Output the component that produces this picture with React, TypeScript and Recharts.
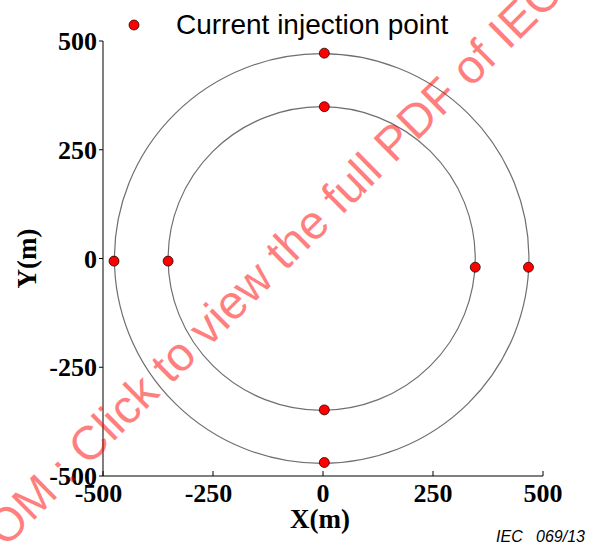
import React from 'react';
import { ScatterChart, Scatter, XAxis, YAxis, ReferenceArea, Legend } from 'recharts';

// axis setup (metres)
const axisDomain = [-500, 500];
const axisTicks = [-500, -250, 0, 250, 500];

// injection points
const pointX = [3, 3, 3, 3, -475, -352, 346, 467];
const pointY = [472, 349, -348, -469, -6, -6, -20, -20];

// the two rings (centre + radii)
const ringCenter = [-3, 0];
const ringRadii = [349, 471];

const seriesName = 'Current injection point';
const xTitle = 'X(m)';
const yTitle = 'Y(m)';
const figureTag = 'IEC   069/13';
const watermarkHead = 'IECNORM.COM :';
const watermarkTail = 'Click to view the full PDF of IEC';

const points = pointX.map((x, i) => ({ x, y: pointY[i] }));

const serif = '"Liberation Serif", "Times New Roman", serif';
const sans = '"Liberation Sans", Arial, sans-serif';

const tickFont = { fill: '#000', fontSize: 26, fontWeight: 700, fontFamily: serif };

const XTick = (props: any) => {
  const { x, y, payload } = props;
  const neg = payload.value < 0;
  return (
    <g>
      <line x1={x} y1={y} x2={x} y2={y - 5} stroke="#000" strokeWidth={1} />
      <text x={x} y={y + 26} dx={neg ? -4.5 : 0} textAnchor="middle" {...tickFont}>
        {payload.value}
      </text>
    </g>
  );
};

const RingShape = (props: any) => {
  const { x, y, width, height } = props;
  return (
    <ellipse
      cx={x + width / 2}
      cy={y + height / 2}
      rx={Math.abs(width) / 2}
      ry={Math.abs(height) / 2}
      fill="none"
      stroke="#6f6f6f"
      strokeWidth={1.2}
    />
  );
};

const PointShape = (props: any) => (
  <circle cx={props.cx} cy={props.cy} r={5} fill="#ff0000" stroke="#000" strokeWidth={0.7} />
);

const LegendContent = () => (
  <div
    style={{
      display: 'flex',
      alignItems: 'center',
      fontFamily: sans,
      fontSize: 28,
      color: '#000',
      whiteSpace: 'nowrap',
    }}
  >
    <svg width={12} height={12}>
      <circle cx={6} cy={6} r={5} fill="#ff0000" stroke="#000" strokeWidth={0.7} />
    </svg>
    <span style={{ marginLeft: 36 }}>{seriesName}</span>
  </div>
);

const YTitle = (props: any) => {
  const { viewBox } = props;
  const cx = viewBox.x - 16;
  const cy = viewBox.y + viewBox.height / 2;
  return (
    <text
      transform={`translate(${cx}, ${cy}) rotate(-90)`}
      textAnchor="middle"
      dominantBaseline="central"
      fill="#000"
      fontSize={27}
      fontWeight={700}
      fontFamily={serif}
    >
      {yTitle}
    </text>
  );
};

const XTitle = (props: any) => {
  const { viewBox } = props;
  return (
    <text
      x={viewBox.x + viewBox.width / 2 - 3}
      y={viewBox.y + 52}
      textAnchor="middle"
      fill="#000"
      fontSize={27}
      fontWeight={700}
      fontFamily={serif}
    >
      {xTitle}
    </text>
  );
};

export default function App() {
  return (
    <div style={{ position: 'absolute', left: 0, top: 0, width: 589, height: 549, background: '#fff' }}>
      <ScatterChart width={589} height={549} margin={{ top: 41, right: 46, bottom: 23, left: 43 }}>
        <XAxis
          type="number"
          dataKey="x"
          domain={axisDomain}
          ticks={axisTicks}
          allowDataOverflow
          height={50}
          tickSize={0}
          tickMargin={0}
          tickLine={false}
          axisLine={{ stroke: '#000', strokeWidth: 1 }}
          tick={<XTick />}
          label={<XTitle />}
        />
        <YAxis
          type="number"
          dataKey="y"
          domain={axisDomain}
          ticks={axisTicks}
          allowDataOverflow
          width={60}
          tickSize={4}
          tickMargin={2}
          tickLine={{ stroke: '#000' }}
          axisLine={{ stroke: '#000', strokeWidth: 1 }}
          tick={tickFont}
          label={<YTitle />}
        />
        {ringRadii.map((r) => (
          <ReferenceArea
            key={r}
            x1={ringCenter[0] - r}
            x2={ringCenter[0] + r}
            y1={ringCenter[1] - r}
            y2={ringCenter[1] + r}
            shape={<RingShape />}
            ifOverflow="visible"
          />
        ))}
        <Scatter name={seriesName} data={points} shape={<PointShape />} isAnimationActive={false} />
        <Legend
          layout="horizontal"
          verticalAlign="middle"
          align="center"
          content={<LegendContent />}
          wrapperStyle={{ top: 9, left: 128, width: 'auto', height: 'auto' }}
        />
      </ScatterChart>
      <svg
        width={589}
        height={549}
        style={{ position: 'absolute', left: 0, top: 0, pointerEvents: 'none' }}
      >
        <g transform="translate(88, 467) rotate(-44.7)" fill="#ff0000" fillOpacity={0.5} fontFamily={sans} fontSize={47.5}>
          <text x={-13} textAnchor="end">{watermarkHead}</text>
          <text x={0}>{watermarkTail}</text>
        </g>
        <text
          x={585}
          y={542}
          textAnchor="end"
          fontFamily={sans}
          fontStyle="italic"
          fontSize={16}
          fill="#000"
          style={{ whiteSpace: 'pre' }}
        >
          {figureTag}
        </text>
      </svg>
    </div>
  );
}
